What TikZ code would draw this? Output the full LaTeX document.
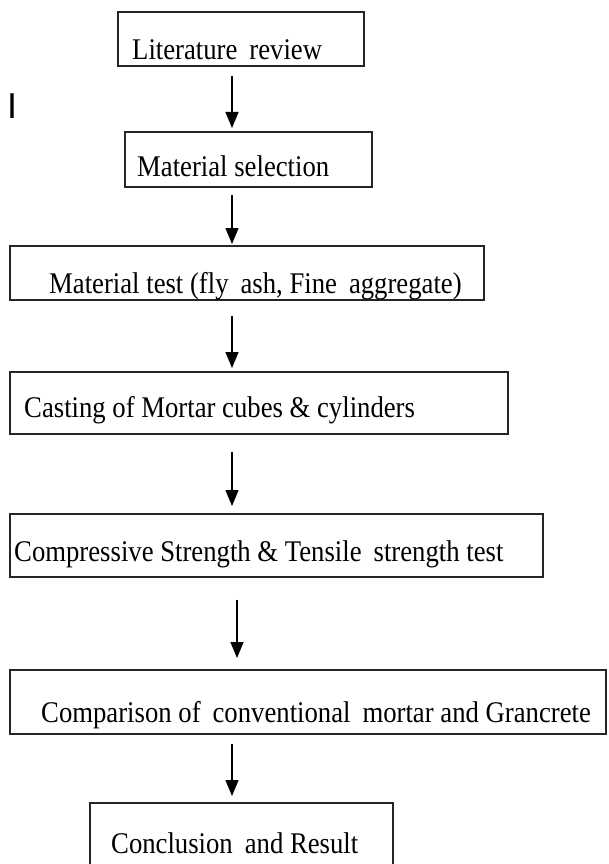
\documentclass[tikz,border=0pt]{standalone}
\usepackage{fontspec}
\setmainfont{Liberation Serif}[FakeStretch=0.89]
\newfontfamily\marksans{Liberation Sans}
\usetikzlibrary{arrows.meta,calc}
\newcommand{\dsp}{\hspace{0.4em}}
\begin{document}
\begin{tikzpicture}[x=1pt,y=-1pt,
  box/.style={draw=black!85,line width=1.8pt,inner sep=0pt,anchor=north west},
  txt/.style={anchor=base west,inner sep=0pt,font=\fontsize{30}{32}\selectfont},
  arr/.style={line width=1.3pt,-{Triangle[length=16pt,width=13pt]}}]
\useasboundingbox (0,0) rectangle (608,864);
% boxes
\node[box,minimum width=246pt,minimum height=54pt] (b1) at (117,11) {};
\node[box,minimum width=247pt,minimum height=55pt] (b2) at (124,131) {};
\node[box,minimum width=474pt,minimum height=54pt] (b3) at (9,245) {};
\node[box,minimum width=498pt,minimum height=62pt] (b4) at (9,371) {};
\node[box,minimum width=533pt,minimum height=63pt] (b5) at (9,513) {};
\node[box,minimum width=596pt,minimum height=64pt] (b6) at (9,669) {};
% last box, cut by the lower edge
\coordinate (b7nw) at (90,803);
\coordinate (b7ne) at (393,803);
\coordinate (b7sw) at (90,870);
\coordinate (b7se) at (393,870);
\draw[draw=black!85,line width=1.8pt] (b7sw) -- (b7nw) -- (b7ne) -- (b7se);
% texts
\node[txt] (t1) at (132,60) {Literature\dsp review};
\node[txt] (t2) at (137,176) {Material selection};
\node[txt] (t3) at (49,293) {Material test (fly\dsp ash, Fine\dsp aggregate)};
\node[txt] (t4) at (24,417) {Casting of Mortar cubes \& cylinders};
\node[txt] (t5) at (14,561) {Compressive Strength \& Tensile\dsp strength test};
\node[txt] (t6) at (41,722) {Comparison of\dsp conventional\dsp mortar and Grancrete};
\node[txt] (t7) at (111,853) {Conclusion\dsp and Result};
% stray mark
\node[anchor=base west,inner sep=0pt,font=\marksans\fontsize{36}{36}\selectfont] (mk) at (7,119) {I};
% arrows
\coordinate (ax) at (232,0);
\coordinate (ax2) at (237,0);
\draw[arr,shorten <=9pt,shorten >=3pt] (b1.south -| ax) -- (b2.north -| ax);
\draw[arr,shorten <=7pt,shorten >=1pt] (b2.south -| ax) -- (b3.north -| ax);
\draw[arr,shorten <=15pt,shorten >=3pt] (b3.south -| ax) -- (b4.north -| ax);
\draw[arr,shorten <=17pt,shorten >=7pt] (b4.south -| ax) -- (b5.north -| ax);
\draw[arr,shorten <=22pt,shorten >=11pt] (b5.south -| ax2) -- (b6.north -| ax2);
\draw[arr,shorten <=9pt,shorten >=7pt] (b6.south -| ax) -- (b7nw -| ax);
\end{tikzpicture}
\end{document}
